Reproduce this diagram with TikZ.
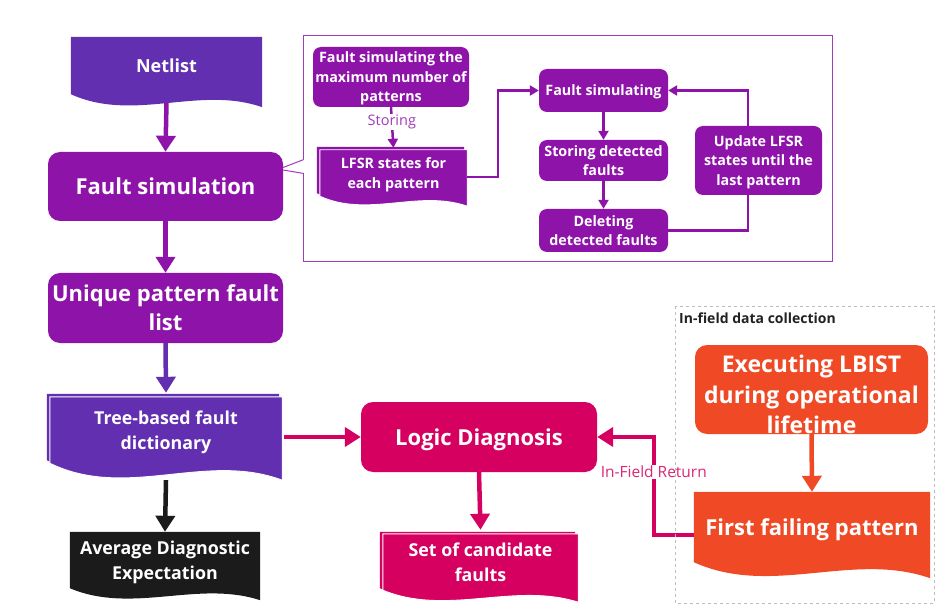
\documentclass[tikz,border=0pt]{standalone}
\usepackage{fontspec}
\setmainfont{Open Sans}
\usetikzlibrary{arrows.meta,calc,backgrounds}

\definecolor{indigo}{HTML}{632FB1}
\definecolor{violet}{HTML}{8E13A9}
\definecolor{ink}{HTML}{1B1B1B}
\definecolor{rose}{HTML}{D5005F}
\definecolor{flame}{HTML}{EF4A25}
\definecolor{frame}{HTML}{A13BBB}
\definecolor{dashgray}{HTML}{BDBDBD}
\definecolor{labelink}{HTML}{222222}

% Document shape with a wavy bottom edge, drawn around a node:
% #1 node, #2 colour, #3 wave depth, #4/#5 offset of the sheet
\newcommand{\docsheet}[5]{%
  \fill[#2] let \p1=(#1.north west), \p2=(#1.south east), \n1={\x2-\x1} in
    (\x1+#4pt,\y1+#5pt) -- (\x2+#4pt,\y1+#5pt) -- (\x2+#4pt,\y2-#3pt+#5pt)
    .. controls (\x1+0.67*\n1+#4pt,\y2+0.7*#3pt+#5pt) and (\x1+0.33*\n1+#4pt,\y2-2.2*#3pt+#5pt)
    .. (\x1+#4pt,\y2+#5pt) -- cycle;}
% Front sheet of a stacked document, with a thin white rim
\newcommand{\docfront}[3]{%
  \path[fill=#2, draw=white, line width=0.9pt] let \p1=(#1.north west), \p2=(#1.south east), \n1={\x2-\x1} in
    (\x1,\y1) -- (\x2,\y1) -- (\x2,\y2-#3pt)
    .. controls (\x1+0.67*\n1,\y2+0.7*#3pt) and (\x1+0.33*\n1,\y2-2.2*#3pt)
    .. (\x1,\y2) -- cycle;}

\begin{document}
\begin{tikzpicture}[x=1pt,y=-1pt,
  box/.style={rounded corners=12pt, inner sep=0pt, align=center, text=white, text depth=0pt,
    font=\bfseries\fontsize{22}{29}\selectfont},
  small/.style={rounded corners=8pt, inner sep=0pt, align=center, text=white, text depth=0pt,
    font=\bfseries\fontsize{14.3}{19.5}\selectfont, fill=violet, minimum width=129pt},
  doc/.style={inner sep=0pt, align=center, text=white, text depth=0pt},
  docfont/.style={font=\bfseries\fontsize{17.8}{24.5}\selectfont},
  bigarrow/.style={line width=4.5pt, -{Triangle[width=19pt,length=16pt]}},
  thinarrow/.style={line width=2.5pt, -{Triangle[width=10pt,length=9pt]}},
  looplink/.style={line width=2.5pt}
]
\useasboundingbox (0,0) rectangle (935,604);

% ---- main flow ----
\node[doc, minimum width=191pt, minimum height=57pt,
  font=\bfseries\fontsize{18}{22}\selectfont] (netlist) at (166.5,65.5) {Netlist};
\node[box, fill=violet, minimum width=235pt, minimum height=69pt] (fsim) at (165.5,186.5) {Fault simulation};
\node[box, fill=violet, minimum width=235pt, minimum height=70pt] (unique) at (165.5,308) {Unique pattern fault\\list};
\node[doc, docfont, minimum width=232pt, minimum height=66pt] (tree) at (166,430) {Tree-based fault\\dictionary};
\node[doc, docfont, minimum width=190pt, minimum height=56pt] (ade) at (165,560) {Average Diagnostic\\Expectation};
\node[box, fill=rose, minimum width=236pt, minimum height=70pt] (logic) at (479,437) {Logic Diagnosis};
\node[doc, docfont, minimum width=195pt, minimum height=56pt] (cand) at (480.5,562) {Set of candidate\\faults};
\node[box, fill=flame, minimum width=233pt, minimum height=89pt] (lbist) at (811.5,389.5) {};
\node[inner sep=0pt, align=center, text=white, font=\bfseries\fontsize{23}{30.5}\selectfont]
  (lbisttext) at ([yshift=-5pt]lbist.center) {Executing LBIST\\during operational\\lifetime};
\node[doc, minimum width=236pt, minimum height=70pt,
  font=\bfseries\fontsize{22}{28}\selectfont] (first) at (812,527) {First failing pattern};

% ---- detail panel ----
\node[inner sep=0pt, minimum width=528pt, minimum height=225pt] (panel) at (568,148.5) {};
\draw[frame, line width=1.3pt] ([yshift=-11pt]panel.west) -- (panel.north west) -- (panel.north east)
  -- (panel.south east) -- (panel.south west) -- ([yshift=-25pt]panel.west);
\draw[frame, line width=1pt] ([yshift=-11pt]panel.west) -- ([yshift=19pt]fsim.east);
\draw[frame, line width=1pt] ([yshift=-25pt]panel.west) -- ([yshift=16.5pt]fsim.east);

\node[small, minimum width=156pt, minimum height=60pt] (fsmax) at (391,77) {Fault simulating the\\maximum number of\\patterns};
\node[doc, minimum width=147pt, minimum height=46pt,
  font=\bfseries\fontsize{14.3}{20.5}\selectfont] (lfsr) at (393.5,173) {LFSR states for\\each pattern};
\node[small, minimum height=43pt] (fsing) at (603.5,90.5) {Fault simulating};
\node[small, minimum height=41pt] (sdf) at (603.5,160.5) {Storing detected\\faults};
\node[small, minimum height=43pt] (ddf) at (603.5,230.5) {Deleting\\detected faults};
\node[small, minimum width=127pt, minimum height=69pt] (upd) at (758.5,160.5) {Update LFSR\\states until the\\last pattern};

% ---- shapes of the document nodes ----
\begin{pgfonlayer}{background}
  \docsheet{netlist}{indigo}{13}{0}{0}
  \docsheet{tree}{indigo}{17}{-3}{3}
  \docfront{tree}{indigo}{17}
  \docsheet{ade}{ink}{12}{0}{0}
  \docsheet{cand}{rose}{12}{-3}{2}
  \docfront{cand}{rose}{12}
  \docsheet{first}{flame}{16}{0}{0}
  \docsheet{lfsr}{violet}{10}{-3}{3}
  \docfront{lfsr}{violet}{10}
\end{pgfonlayer}

% ---- connectors of the main flow ----
\draw[bigarrow, violet] ([yshift=-8pt]netlist.south) -- (fsim.north);
\draw[bigarrow, violet] (fsim.south) -- (unique.north);
\draw[bigarrow, indigo] (unique.south) -- ([yshift=4pt]tree.north);
\draw[bigarrow, ink] ([yshift=-17pt]tree.south) -- (ade.north);
\draw[bigarrow, rose] ([xshift=2pt]tree.east |- logic.west) -- (logic.west);
\draw[bigarrow, rose] (logic.south) -- ([yshift=4pt]cand.north);
\draw[bigarrow, flame] (lbist.south) -- (first.north);
\draw[bigarrow, rose] ([yshift=-8pt]first.west) -- ++(-40,0) coordinate (bend) |- (logic.east);
\node[fill=white, inner sep=1pt, text=rose!85!white, font=\fontsize{15.5}{17}\selectfont]
  (ret) at (bend |- 0,472) {In-Field Return};

% ---- connectors of the detail panel ----
\draw[thinarrow, violet, shorten >=2pt] (fsmax.south) -- node[pos=0.35, fill=white, inner sep=1pt,
  text=frame, font=\fontsize{14.5}{16}\selectfont] (storing) {Storing} (lfsr.north);
\draw[thinarrow, violet] ([yshift=-4pt]lfsr.east) -- ++(31,0) |- (fsing.west);
\draw[thinarrow, violet] (fsing.south) -- (sdf.north);
\draw[thinarrow, violet] (sdf.south) -- (ddf.north);
\draw[looplink, violet] (ddf.east) -| ([xshift=-10.5pt]upd.south);
\draw[thinarrow, violet] ([xshift=-10.5pt]upd.north) |- (fsing.east);

% ---- in-field area ----
\draw[dashgray, line width=0.9pt, dash pattern=on 3pt off 3pt] (675,306) rectangle (934,603);
\node[anchor=west, inner sep=0pt, text=labelink, font=\bfseries\fontsize{14}{16}\selectfont]
  (infield) at (679,318) {In-field data collection};
\end{tikzpicture}
\end{document}
